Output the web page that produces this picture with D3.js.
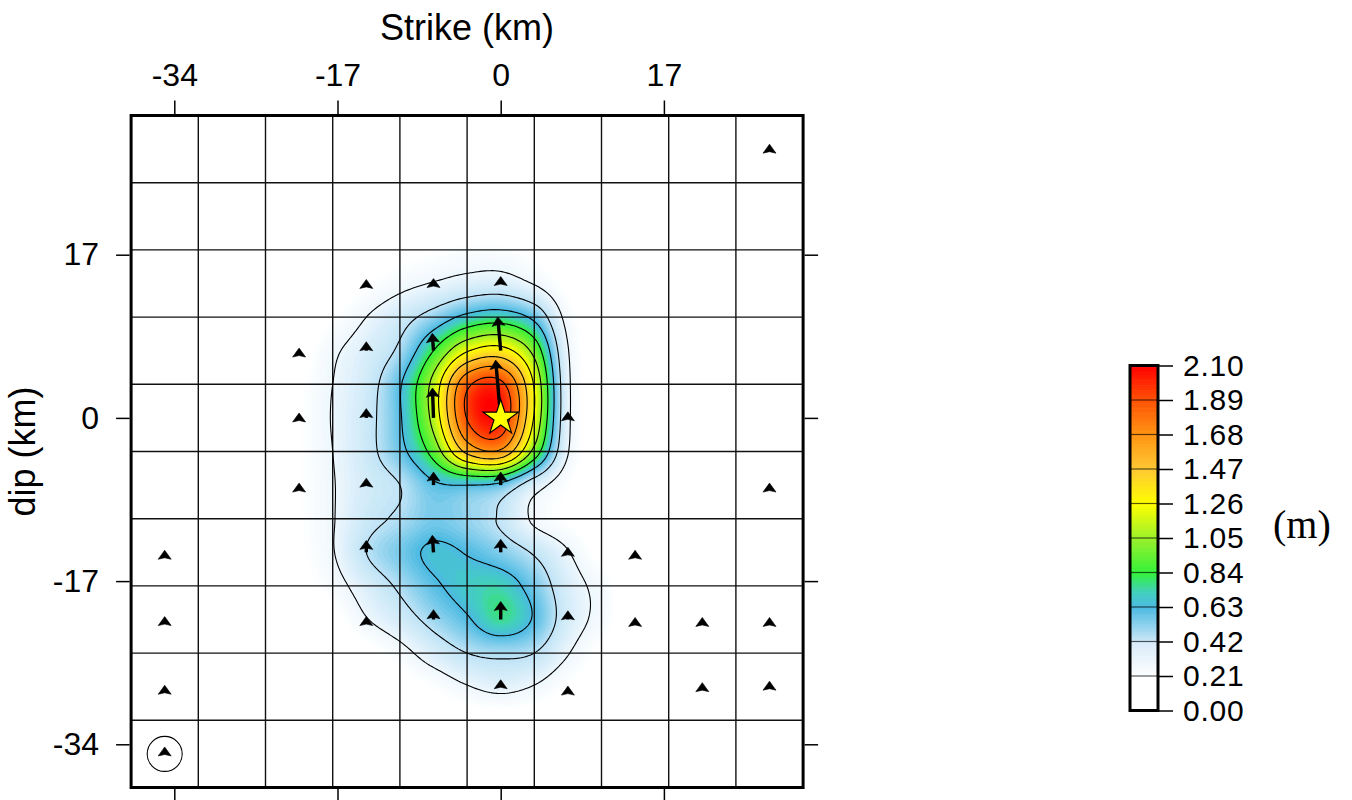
<!DOCTYPE html>
<html><head><meta charset="utf-8">
<script src="https://cdn.jsdelivr.net/npm/d3@7"></script>
<style>body{margin:0;background:#fff} svg{display:block}</style>
</head><body>
<svg id="chart" width="1352" height="800"></svg>
<script>
// ---------------- DATA ----------------
const axisTicks = [-34, -17, 0, 17];
const contourLevels = [0.21, 0.42, 0.63, 0.84, 1.05, 1.26, 1.47, 1.68, 1.89];
const colorbarTicks = [0, 0.21, 0.42, 0.63, 0.84, 1.05, 1.26, 1.47, 1.68, 1.89, 2.10];
// slip field nodes (km), 3.5 km spacing; zero outside
const nodeX = [-21, -17.5, -14, -10.5, -7, -3.5, 0, 3.5, 7, 10.5];
const nodeY = [17.5, 14, 10.5, 7, 3.5, 0, -3.5, -7, -10.5, -14, -17.5, -21, -24.5, -28, -31.5];
const slip = [
  [0.00, 0.00, 0.02, 0.05, 0.08, 0.11, 0.11, 0.07, 0.02, 0.00],
  [0.00, 0.02, 0.08, 0.16, 0.22, 0.28, 0.30, 0.20, 0.06, 0.00],
  [0.00, 0.08, 0.21, 0.34, 0.50, 0.68, 0.74, 0.58, 0.15, 0.02],
  [0.03, 0.18, 0.30, 0.46, 0.84, 1.24, 1.34, 0.98, 0.22, 0.02],
  [0.07, 0.21, 0.34, 0.61, 1.12, 1.84, 1.94, 1.24, 0.25, 0.02],
  [0.08, 0.22, 0.36, 0.61, 1.12, 1.90, 2.03, 1.24, 0.25, 0.02],
  [0.08, 0.21, 0.36, 0.57, 0.92, 1.52, 1.64, 0.98, 0.22, 0.02],
  [0.08, 0.20, 0.33, 0.42, 0.60, 0.63, 0.58, 0.30, 0.10, 0.02],
  [0.08, 0.20, 0.36, 0.45, 0.55, 0.50, 0.40, 0.18, 0.08, 0.02],
  [0.07, 0.20, 0.42, 0.55, 0.66, 0.62, 0.53, 0.40, 0.22, 0.05],
  [0.04, 0.14, 0.30, 0.45, 0.60, 0.69, 0.72, 0.55, 0.30, 0.15],
  [0.01, 0.05, 0.20, 0.33, 0.48, 0.61, 0.76, 0.61, 0.32, 0.15],
  [0.00, 0.00, 0.05, 0.15, 0.30, 0.42, 0.46, 0.42, 0.22, 0.06],
  [0.00, 0.00, 0.00, 0.03, 0.10, 0.20, 0.26, 0.20, 0.08, 0.02],
  [0.00, 0.00, 0.00, 0.00, 0.01, 0.02, 0.02, 0.02, 0.01, 0.00]
];
// subfault slip vectors (cell centres, km)
const arrowX = [28, -14, -7, 0, -21, -14, -7, 0, -21, -14, -7, 0, 7, -21, -14, -7, 0, 28, -35, -14, -7, 0, 7, 14, -35, -14, -7, 0, 7, 14, 21, 28, -35, 0, 7, 21, 28, -35];
const arrowY = [28, 14, 14, 14, 7, 7, 7, 7, 0, 0, 0, 0, 0, -7, -7, -7, -7, -7, -14, -14, -14, -14, -14, -14, -21, -21, -21, -21, -21, -21, -21, -21, -28, -28, -28, -28, -28, -35];
const arrowSlip = [0.17, 0.14, 0.17, 0.24, 0.09, 0.31, 0.60, 1.17, 0.17, 0.32, 1.03, 2.00, 0.21, 0.07, 0.24, 0.45, 0.45, 0.07, 0.07, 0.41, 0.59, 0.45, 0.17, 0.07, 0.10, 0.10, 0.34, 0.62, 0.30, 0.07, 0.07, 0.07, 0.05, 0.24, 0.02, 0.14, 0.19, 0.24];
const arrowRake = [90, 90, 90, 90, 90, 90, 94, 95, 90, 90, 92, 95, 90, 90, 90, 90, 90, 90, 90, 90, 94, 90, 90, 90, 90, 90, 90, 90, 90, 90, 90, 90, 90, 90, 90, 90, 90, 90];
const circledCells = [[-35, -35]];
const hypocenter = [0, 0];

// ---------------- SETUP ----------------
const svg = d3.select('#chart');
const FONT = '"Liberation Sans", Arial, sans-serif';
const xMin = -38.5, xMax = 31.5, yMin = -38.5, yMax = 31.5;
const x = d3.scaleLinear().domain([xMin, xMax]).range([131.1, 803.1]);
const y = d3.scaleLinear().domain([yMax, yMin]).range([115.5, 787.5]);

const color = d3.scaleLinear()
  .domain([0, 0.08, 0.21, 0.42, 0.63, 0.72, 0.84, 1.05, 1.26, 1.47, 1.68, 1.89, 2.10])
  .range(['#ffffff', '#ffffff', '#eef7fd', '#bfe3f6', '#4cbae2', '#42d0bc', '#33f23a', '#9af02a', '#ffff00', '#ffc832', '#ff9412', '#ff5204', '#ff0000'])
  .clamp(true);
const cbColor = d3.scaleLinear()
  .domain([0, 0.21, 0.22, 0.42, 0.43, 0.63, 0.72, 0.84, 1.05, 1.26, 1.47, 1.68, 1.89, 2.10])
  .range(['#ffffff', '#ffffff', '#fcfdff', '#d8ebf9', '#c6e5f6', '#4cbae2', '#42cfc0', '#33f23a', '#9af02a', '#ffff00', '#ffc832', '#ff9412', '#ff5204', '#ff0000'])
  .clamp(true);

// bicubic (Catmull-Rom) interpolation of the node grid
function node(i, j) {
  if (j < 0 || j >= slip.length || i < 0 || i >= slip[0].length) return 0;
  return slip[j][i];
}
function cr(p0, p1, p2, p3, t) {
  return p1 + 0.5 * t * (p2 - p0 + t * (2 * p0 - 5 * p1 + 4 * p2 - p3 + t * (3 * (p1 - p2) + p3 - p0)));
}
const dNode = nodeX[1] - nodeX[0];
function field(xk, yk) {
  const fx = (xk - nodeX[0]) / dNode, fy = (nodeY[0] - yk) / dNode;
  const i = Math.floor(fx), j = Math.floor(fy), t = fx - i, u = fy - j;
  const r = [];
  for (let k = -1; k <= 2; k++) r.push(cr(node(i - 1, j + k), node(i, j + k), node(i + 1, j + k), node(i + 2, j + k), t));
  return cr(r[0], r[1], r[2], r[3], u);
}

const step = 0.25;
const n = Math.round((xMax - xMin) / step);
const values = new Float64Array(n * n);
for (let j = 0; j < n; j++) for (let i = 0; i < n; i++) {
  values[j * n + i] = Math.max(0, field(xMin + (i + 0.5) * step, yMax - (j + 0.5) * step));
}
const proj = d3.geoTransform({ point(px, py) { this.stream.point(x(xMin + px * step), y(yMax - py * step)); } });
const path = d3.geoPath(proj);

svg.append('defs').append('clipPath').attr('id', 'plotclip')
  .append('rect').attr('x', x(xMin)).attr('y', y(yMax)).attr('width', x(xMax) - x(xMin)).attr('height', y(yMin) - y(yMax));

const plot = svg.append('g').attr('clip-path', 'url(#plotclip)');
plot.append('rect').attr('x', x(xMin)).attr('y', y(yMax)).attr('width', x(xMax) - x(xMin)).attr('height', y(yMin) - y(yMax)).attr('fill', '#fff');

// filled field
const fillThr = d3.range(0.01, 2.1, 0.02);
const bands = d3.contours().size([n, n]).thresholds(fillThr)(values);
plot.append('g').selectAll('path').data(bands).join('path')
  .attr('d', path).attr('fill', d => color(d.value + 0.01)).attr('stroke', 'none');

// grid
const gridX = d3.range(xMin + 7, xMax - 0.1, 7), gridY = d3.range(yMin + 7, yMax - 0.1, 7);
plot.append('g').selectAll('line.gx').data(gridX).join('line')
  .attr('x1', d => x(d)).attr('x2', d => x(d)).attr('y1', y(yMax)).attr('y2', y(yMin))
  .attr('stroke', '#111').attr('stroke-width', 1.4);
plot.append('g').selectAll('line.gy').data(gridY).join('line')
  .attr('y1', d => y(d)).attr('y2', d => y(d)).attr('x1', x(xMin)).attr('x2', x(xMax))
  .attr('stroke', '#111').attr('stroke-width', 1.4);

// contour lines
const lines = d3.contours().size([n, n]).thresholds(contourLevels)(values);
plot.append('g').selectAll('path').data(lines).join('path')
  .attr('d', path).attr('fill', 'none').attr('stroke', '#000').attr('stroke-width', 1.1);

// arrows
const arrowLen = d3.scaleLinear().domain([0, 2]).range([0, 58]);
const hl = 9, hw = 6.5, notch = 1.5;
const ag = plot.append('g');
arrowX.forEach((ax, k) => {
  const cx = x(ax), cy = y(arrowY[k]);
  const th = arrowRake[k] * Math.PI / 180;
  const dx = Math.cos(th), dy = -Math.sin(th);
  const px = -dy, py = dx;
  const L = arrowLen(arrowSlip[k]);
  const tx = cx + L * dx, ty = cy + L * dy;
  if (L > hl - notch) {
    ag.append('line').attr('x1', cx).attr('y1', cy)
      .attr('x2', tx - (hl - notch - 0.5) * dx).attr('y2', ty - (hl - notch - 0.5) * dy)
      .attr('stroke', '#000').attr('stroke-width', 3.4);
  }
  const bx = tx - hl * dx, by = ty - hl * dy;
  const pts = [[tx, ty], [bx + hw * px, by + hw * py], [tx - (hl - notch) * dx, ty - (hl - notch) * dy], [bx - hw * px, by - hw * py]];
  ag.append('path').attr('d', 'M' + pts.map(p => p[0].toFixed(2) + ',' + p[1].toFixed(2)).join('L') + 'Z')
    .attr('fill', '#000').attr('stroke', '#000').attr('stroke-width', 0.6).attr('stroke-linejoin', 'miter');
});
plot.append('g').selectAll('circle').data(circledCells).join('circle')
  .attr('cx', d => x(d[0])).attr('cy', d => y(d[1])).attr('r', 17.5)
  .attr('fill', 'none').attr('stroke', '#000').attr('stroke-width', 1.1);

// hypocenter star
plot.append('path').attr('d', d3.symbol(d3.symbolStar, 18.5 * 18.5 / 0.8908130915)())
  .attr('transform', `translate(${x(hypocenter[0])},${y(hypocenter[1])})`)
  .attr('fill', '#ffff00').attr('stroke', '#000').attr('stroke-width', 1.2);

// border
svg.append('rect').attr('x', x(xMin)).attr('y', y(yMax)).attr('width', x(xMax) - x(xMin)).attr('height', y(yMin) - y(yMax))
  .attr('fill', 'none').attr('stroke', '#000').attr('stroke-width', 3);

// axes
const fmt = d => String(d);
function styleAxis(g, labels) {
  g.select('.domain').remove();
  g.selectAll('.tick line').attr('stroke', '#000').attr('stroke-width', 1.5);
  g.selectAll('.tick text').attr('fill', '#000').style('font-family', FONT).style('font-size', '32px');
  if (!labels) g.selectAll('.tick text').remove();
}
svg.append('g').attr('transform', `translate(0,${y(yMax) - 1.5})`)
  .call(d3.axisTop(x).tickValues(axisTicks).tickFormat(fmt).tickSize(13.5).tickPadding(15)).call(g => styleAxis(g, true));
svg.append('g').attr('transform', `translate(0,${y(yMin) + 1.5})`)
  .call(d3.axisBottom(x).tickValues(axisTicks).tickFormat(fmt).tickSize(13.5)).call(g => styleAxis(g, false));
svg.append('g').attr('transform', `translate(${x(xMin) - 1.5},0)`)
  .call(d3.axisLeft(y).tickValues(axisTicks).tickFormat(fmt).tickSize(13.5).tickPadding(17)).call(g => styleAxis(g, true));
svg.append('g').attr('transform', `translate(${x(xMax) + 1.5},0)`)
  .call(d3.axisRight(y).tickValues(axisTicks).tickFormat(fmt).tickSize(13.5)).call(g => styleAxis(g, false));

svg.append('text').attr('x', 467).attr('y', 40).attr('text-anchor', 'middle')
  .style('font-family', FONT).style('font-size', '36px').text('Strike (km)');
svg.append('text').attr('transform', 'translate(35,451.5) rotate(-90)').attr('text-anchor', 'middle')
  .style('font-family', FONT).style('font-size', '36px').text('dip (km)');

// colorbar
const cb = d3.scaleLinear().domain([0, 2.1]).range([710.5, 365.5]);
const cbX = 1130, cbW = 28;
const cbSteps = d3.range(0, 2.1, 0.01);
const cbg = svg.append('g');
cbg.selectAll('rect.c').data(cbSteps).join('rect')
  .attr('x', cbX).attr('width', cbW)
  .attr('y', d => cb(d + 0.01)).attr('height', d => cb(d) - cb(d + 0.01) + 0.6)
  .attr('fill', d => cbColor(d + 0.005));
cbg.selectAll('line.sep').data(colorbarTicks.slice(1, -1)).join('line')
  .attr('x1', cbX).attr('x2', cbX + cbW).attr('y1', d => cb(d)).attr('y2', d => cb(d))
  .attr('stroke', '#000').attr('stroke-opacity', 0.65).attr('stroke-width', 1.2);
cbg.append('rect').attr('x', cbX).attr('y', cb(2.1)).attr('width', cbW).attr('height', cb(0) - cb(2.1))
  .attr('fill', 'none').attr('stroke', '#000').attr('stroke-width', 3);
const cbAxis = svg.append('g').attr('transform', `translate(${cbX + cbW + 1},0)`)
  .call(d3.axisRight(cb).tickValues(colorbarTicks).tickSize(14).tickPadding(10).tickFormat(d3.format('.2f')));
cbAxis.select('.domain').remove();
cbAxis.selectAll('.tick line').attr('stroke', '#000').attr('stroke-width', 1.5);
cbAxis.selectAll('.tick text').attr('fill', '#000').style('font-family', FONT).style('font-size', '30px').style('letter-spacing', '0.8px');

svg.append('text').attr('x', 1273).attr('y', 538)
  .style('font-family', '"Liberation Serif", "Times New Roman", serif').style('font-size', '40px').text('(m)');
</script>
</body></html>
